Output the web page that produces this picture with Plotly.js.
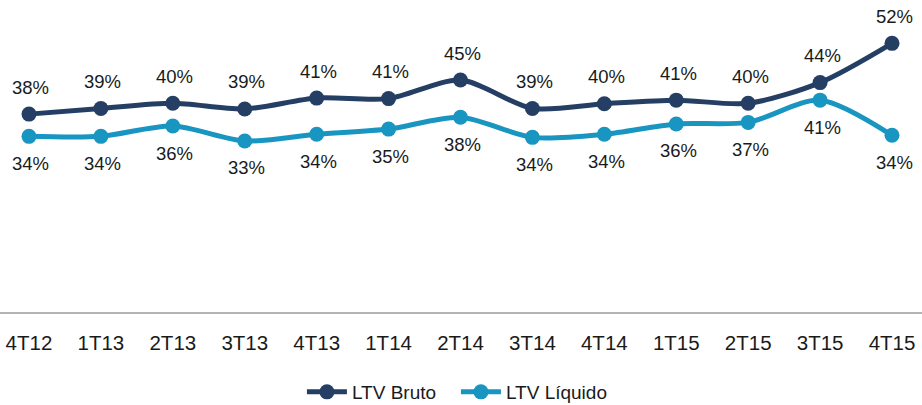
<!DOCTYPE html>
<html>
<head>
<meta charset="utf-8">
<script src="https://cdn.plot.ly/plotly-3.0.1.min.js"></script>
<style>html,body{margin:0;padding:0;background:#fff;}#chart{width:922px;height:405px;}</style>
</head>
<body>
<div id="chart"></div>
<script>
const categories = ["4T12","1T13","2T13","3T13","4T13","1T14","2T14","3T14","4T14","1T15","2T15","3T15","4T15"];
const ltvBruto   = [38.3, 39.4, 40.4, 39.3, 41.4, 41.3, 44.9, 39.4, 40.3, 41.0, 40.4, 44.4, 52.0];
const ltvLiquido = [34.0, 34.0, 36.0, 33.1, 34.4, 35.4, 37.7, 33.8, 34.4, 36.4, 36.7, 41.0, 34.2];
const seriesNames = ["LTV Bruto", "LTV Líquido"];
const colors = ["#243f63", "#1896c1"];

const fontFam = "Liberation Sans, Arial, sans-serif";

function trace(y, name, color) {
  return {
    x: categories, y: y, name: name, type: "scatter", mode: "lines+markers",
    line: {color: color, width: 5, shape: "spline", smoothing: 0.8},
    marker: {color: color, size: 15},
    hoverinfo: "skip"
  };
}

const annotations = [];
categories.forEach((c, i) => {
  annotations.push({x: c, y: ltvBruto[i], text: Math.round(ltvBruto[i]) + "%", showarrow: false,
    yshift: 27, xshift: 2, font: {family: fontFam, size: 18.5, color: "#1a1a1a"}});
  annotations.push({x: c, y: ltvLiquido[i], text: Math.round(ltvLiquido[i]) + "%", showarrow: false,
    yshift: -27, xshift: 2, font: {family: fontFam, size: 18.5, color: "#1a1a1a"}});
});

const layout = {
  width: 922, height: 405,
  margin: {l: 0, r: 0, t: 2, b: 93, autoexpand: false},
  paper_bgcolor: "#fff", plot_bgcolor: "#fff",
  showlegend: true,
  legend: {orientation: "h", x: 0.4945, xanchor: "center", y: -0.258, yanchor: "middle",
    font: {family: fontFam, size: 19, color: "#1a1a1a"}, itemwidth: 40, entrywidth: 99, tracegroupgap: 0},
  xaxis: {
    type: "category", range: [-0.403, 12.417], showgrid: false, zeroline: false,
    showline: true, linecolor: "#b4b4b4", linewidth: 1.5,
    ticks: "", ticklabelstandoff: 12,
    tickfont: {family: fontFam, size: 20.5, color: "#1a1a1a"}, fixedrange: true
  },
  yaxis: {range: [0, 60], visible: false, showgrid: false, zeroline: false, fixedrange: true},
  annotations: annotations
};

Plotly.newPlot("chart", [trace(ltvBruto, seriesNames[0], colors[0]), trace(ltvLiquido, seriesNames[1], colors[1])], layout, {displayModeBar: false, staticPlot: true});
</script>
</body>
</html>
